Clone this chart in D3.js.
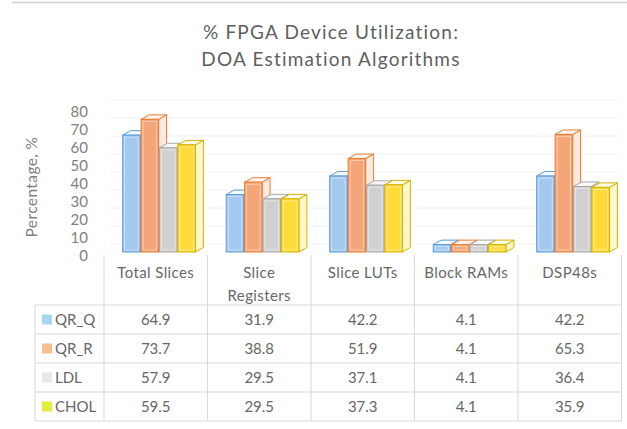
<!DOCTYPE html>
<html><head><meta charset="utf-8">
<script src="https://cdn.jsdelivr.net/npm/d3@7"></script>
<style>
html,body{margin:0;padding:0;background:#fff;}
svg{display:block;font-family:Lato,"Open Sans",sans-serif;}
</style></head>
<body>
<svg id="chart" width="627" height="429"></svg>
<script>
const categories = ["Total Slices", "Slice Registers", "Slice LUTs", "Block RAMs", "DSP48s"];
const headerLines = [["Total Slices"], ["Slice", "Registers"], ["Slice LUTs"], ["Block RAMs"], ["DSP48s"]];
const seriesNames = ["QR_Q", "QR_R", "LDL", "CHOL"];
const QR_Q = [64.9, 31.9, 42.2, 4.1, 42.2];
const QR_R = [73.7, 38.8, 51.9, 4.1, 65.3];
const LDL  = [57.9, 29.5, 37.1, 4.1, 36.4];
const CHOL = [59.5, 29.5, 37.3, 4.1, 35.9];
const yTicks = [0, 10, 20, 30, 40, 50, 60, 70, 80];
const titleLines = ["% FPGA Device Utilization:", "DOA Estimation Algorithms"];
const yTitle = "Percentage, %";

const seriesValues = [QR_Q, QR_R, LDL, CHOL];
const frontFill = ["#a5c9ee", "#f5a679", "#d0d0d0", "#ffdb3a"];
const strokeCol = ["#5b9bd5", "#ed7d31", "#a8a8a8", "#d6b300"];
const keyFill   = ["#a6d6ee", "#f7bf8e", "#e8e8e8", "#e2ee3a"];
const textCol = "#676767";

const svg = d3.select("#chart");

// top rule
svg.append("line").attr("x1", 12).attr("x2", 627).attr("y1", 2.5).attr("y2", 2.5)
  .attr("stroke", "#cfcfcf").attr("stroke-width", 1.5);

// title
svg.append("g").selectAll("text").data(titleLines).join("text")
  .attr("x", 331).attr("y", (d, i) => 39 + i * 27)
  .attr("text-anchor", "middle")
  .attr("font-size", 19).attr("letter-spacing", 1.2)
  .attr("fill", "#5f5f5f").text(d => d);

// scales
const tableLeft = 104, tableRight = 621.5;
const x = d3.scaleBand().domain(categories).range([tableLeft, tableRight]).padding(0);
const colW = x.bandwidth();
const barStep = 18.4, barW = 17.5, dx = 8, dy = 4.5;
const xs = d3.scaleBand().domain(seriesNames).range([18.7, 18.7 + barStep * 4]).paddingInner(0).paddingOuter(0);
const y = d3.scaleLinear().domain([0, 80]).range([252, 108]);

// faint gridlines on back wall
svg.append("g").selectAll("line").data(yTicks).join("line")
  .attr("x1", tableLeft + 6).attr("x2", tableRight - 2)
  .attr("y1", d => y(d) - 8).attr("y2", d => y(d) - 8)
  .attr("stroke", "#f2f2f2").attr("stroke-width", 1);

// y axis tick labels
const yAxis = d3.axisLeft(y).tickValues(yTicks).tickSize(0).tickPadding(0);
const gy = svg.append("g").attr("transform", "translate(88,4)").call(yAxis);
gy.select(".domain").remove();
gy.selectAll("text").attr("font-size", 15).attr("fill", "#808080")
  .attr("font-family", "Lato, sans-serif");

// y title
svg.append("text").attr("transform", "translate(37,187) rotate(-90)")
  .attr("text-anchor", "middle").attr("font-size", 15.5).attr("letter-spacing", 0.4).attr("fill", "#808080")
  .text(yTitle);

// bars
const mix = (c, t) => d3.interpolateRgb(c, "#ffffff")(t);
const gBars = svg.append("g");
categories.forEach((cat, ci) => {
  seriesNames.forEach((s, si) => {
    const v = seriesValues[si][ci];
    const bx = x(cat) + xs(s);
    const yt = y(v), yb = y(0);
    const g = gBars.append("g");
    g.append("path")
      .attr("d", `M${bx + barW},${yt} L${bx + barW + dx},${yt - dy} L${bx + barW + dx},${yb - dy} L${bx + barW},${yb} Z`)
      .attr("fill", mix(frontFill[si], 0.75)).attr("stroke", strokeCol[si]).attr("stroke-width", 1)
      .attr("stroke-linejoin", "round");
    g.append("path")
      .attr("d", `M${bx},${yt} L${bx + dx},${yt - dy} L${bx + barW + dx},${yt - dy} L${bx + barW},${yt} Z`)
      .attr("fill", mix(frontFill[si], 0.88)).attr("stroke", strokeCol[si]).attr("stroke-width", 1)
      .attr("stroke-linejoin", "round");
    g.append("rect")
      .attr("x", bx).attr("y", yt).attr("width", barW).attr("height", yb - yt)
      .attr("fill", frontFill[si]).attr("stroke", strokeCol[si]).attr("stroke-width", 1);
    g.append("rect")
      .attr("x", bx + 2).attr("y", yt + 2).attr("width", barW - 4).attr("height", Math.max(0, yb - yt - 4))
      .attr("fill", "none").attr("stroke", mix(frontFill[si], 0.5)).attr("stroke-width", 0.8);
  });
});

// table
const gridCol = "#d9d9d9";
const tTop = 255, headBottom = 305, rowH = 29, rowLeft = 35;
const rowY = d => headBottom + d * rowH;
const tBottom = rowY(seriesNames.length);
const gt = svg.append("g");
const colEdges = categories.map(c => x(c)).concat([tableRight]);
gt.selectAll(".v").data(colEdges).join("line")
  .attr("x1", d => d).attr("x2", d => d).attr("y1", tTop).attr("y2", tBottom)
  .attr("stroke", gridCol).attr("stroke-width", 1);
gt.append("line").attr("x1", rowLeft).attr("x2", rowLeft).attr("y1", headBottom).attr("y2", tBottom)
  .attr("stroke", gridCol);
d3.range(seriesNames.length + 1).forEach(i => {
  gt.append("line").attr("x1", rowLeft).attr("x2", tableRight).attr("y1", rowY(i)).attr("y2", rowY(i))
    .attr("stroke", gridCol);
});
categories.forEach((cat, ci) => {
  headerLines[ci].forEach((ln, li) => {
    gt.append("text").attr("x", x(cat) + colW / 2).attr("y", 278 + li * 23)
      .attr("text-anchor", "middle").attr("font-size", 15).attr("letter-spacing", 0.4)
      .attr("fill", textCol).text(ln);
  });
});
seriesNames.forEach((s, si) => {
  const cy = rowY(si) + rowH / 2;
  gt.append("rect").attr("x", 42).attr("y", cy - 5).attr("width", 10).attr("height", 10).attr("fill", keyFill[si]);
  gt.append("text").attr("x", 55).attr("y", cy + 5.5).attr("font-size", 15).attr("fill", textCol).text(s);
  categories.forEach((cat, ci) => {
    gt.append("text").attr("x", x(cat) + colW / 2).attr("y", cy + 5.5)
      .attr("text-anchor", "middle").attr("font-size", 15).attr("fill", textCol)
      .text(seriesValues[si][ci].toFixed(1));
  });
});
</script>
</body></html>
